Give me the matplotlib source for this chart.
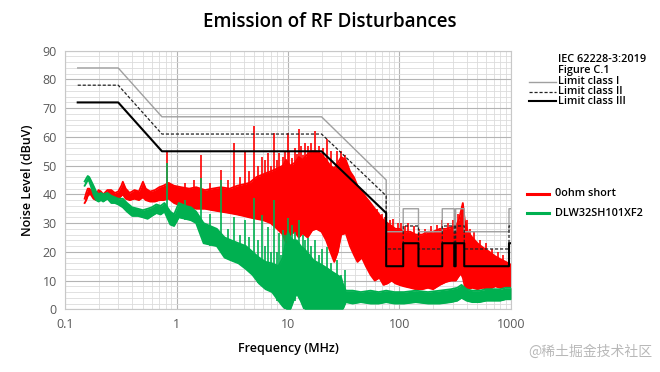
import matplotlib
matplotlib.use('Agg')
import matplotlib.pyplot as plt
from matplotlib.lines import Line2D
from matplotlib.ticker import MultipleLocator, LogLocator, FixedLocator, NullFormatter

plt.rcParams['font.family'] = ['Open Sans', 'DejaVu Sans']

# limit lines (IEC 62228-3 Figure C.1)
lim_f = [0.13, 0.3, 0.74, 20, 76, 76, 108, 108, 148, 148, 242, 242, 310, 310, 319, 319, 381, 381, 960, 960, 1000]
lim_1 = [84, 84, 67, 67, 45, 27, 27, 35, 35, 27, 27, 35, 35, 27, 27, 35, 35, 27, 27, 35, 35]
lim_2 = [78, 78, 61, 61, 39.5, 21, 21, 29, 29, 21, 21, 29, 29, 21, 21, 29, 29, 21, 21, 29, 29]
lim_3 = [72, 72, 55, 55, 33.5, 15, 15, 23, 23, 15, 15, 23, 23, 15, 15, 23, 23, 15, 15, 23, 23]

# 0ohm short - band of the noisy trace
red_f = [0.15, 0.155, 0.16, 0.165, 0.17, 0.18, 0.19, 0.20, 0.21, 0.22, 0.24, 0.26, 0.28, 0.30, 0.32, 0.33,
         0.35, 0.38, 0.42, 0.46, 0.50, 0.53, 0.58, 0.64, 0.70, 0.76, 0.85, 0.95, 1.1, 1.3, 1.5, 1.8, 2.1,
         2.5, 3.0, 3.5, 4.0, 4.5, 5.2, 6.0, 7.0, 8.0, 9.0, 9.6, 10.5, 11.5, 12.5, 13.5, 15, 16.5, 18, 20,
         22, 24, 26, 28, 30, 33, 36, 39, 42, 46, 50, 55, 60, 66, 72, 78, 85, 92, 100, 110, 125, 140, 160,
         180, 200, 230, 260, 290, 320, 340, 355, 370, 385, 410, 450, 500, 560, 640, 720, 800, 900, 1000]
red_hi = [38.5, 40.5, 42, 42, 41.5, 40.5, 40, 41.5, 41, 40, 41.5, 41.5, 40.5, 41, 43, 44.4,
          42, 40.5, 41.5, 41, 44.4, 42, 41, 41.5, 42.5, 43, 44, 43, 42.5, 42, 42.5, 41.5, 42,
          42.5, 42, 43, 43.5, 44, 46, 47, 48, 49, 50, 52, 50, 51, 53, 52, 54, 55, 55, 54,
          52, 50, 49, 51, 53, 52, 48, 46, 43, 41, 39, 37, 35, 33, 31, 30, 29, 28, 28, 27, 27, 26, 26,
          27, 27, 28, 28, 28.5, 29, 31, 34, 37, 31, 27, 25, 23, 21.5, 20, 18.5, 17.5, 16.5, 15.5]
red_lo = [37, 38, 39.5, 40, 40, 38.5, 38, 39, 38.5, 38, 39, 38.5, 38, 38.5, 39.5, 40,
          38.5, 38, 38.5, 38, 39, 38, 37.5, 37.5, 38, 38, 38.5, 37, 36, 35.5, 35, 35, 34.5,
          34, 33.5, 33, 32.5, 32, 31.5, 31, 30, 28, 26, 23, 26, 27, 25, 26.5, 25, 27.5, 28, 27,
          24, 20, 16.5, 20, 26, 26.5, 22, 19, 16.5, 18, 15, 12, 10, 11, 8.5, 9, 10, 9, 8.5, 8, 7.5, 7, 7,
          7.5, 7, 8.5, 9.5, 10, 10, 11.5, 12.5, 11, 8, 7, 7.5, 7, 7.5, 7, 8, 7.5, 8, 8]

# spikes (frequency, top, bottom of the spike)
red_sp_f = [0.82, 1.66, 2.49, 3.28, 4.11, 4.96, 5.9, 6.6, 7.5, 8.3, 9.0, 9.9, 10.8, 12.6, 13.6, 15.0,
            17.5, 22.4, 27.5, 32.4, 38, 42, 47, 54, 60, 66, 83, 88, 96, 104, 113, 120, 135, 150, 170,
            190, 215, 240, 270, 300, 335, 360, 400, 430, 470, 530, 600, 680, 760, 850,
            1.2, 1.45, 2.0, 2.9, 3.7, 4.5, 5.4, 6.2, 7.0, 7.9, 8.7, 9.4, 10.3, 11.5, 12.0, 13.1,
            14.3, 16.2, 18.8, 20.5, 24.5, 30, 35, 44, 50, 57, 63, 70, 74]
red_sp_top = [55, 53.7, 48.5, 57.8, 54.9, 63.8, 53, 54.4, 61.3, 54.4, 53, 61.3, 52.8, 62.6, 53.7, 57,
              62.2, 59.2, 55, 53.7, 44, 43, 40.4, 37, 34.5, 33, 31, 31.5, 30, 30, 29, 30, 29, 28, 28,
              29, 29.5, 31, 30, 31, 33, 36, 31, 28, 27, 24, 23, 21, 20, 19,
              44, 45, 44, 45, 46, 48, 50, 52, 50, 52, 50, 55, 55, 56, 54, 57,
              58, 58, 57, 56, 55, 55, 48, 42, 39, 36, 35, 33, 32]
red_sp_base = [40, 38, 38, 36, 36, 35, 34, 34, 33, 32, 30, 30, 30, 30, 30, 30,
               30, 30, 30, 30, 25, 22, 20, 16, 14, 14, 12, 12, 12, 12, 12, 12, 12, 12, 12,
               12, 12, 12, 12, 12, 14, 15, 12, 12, 12, 12, 12, 12, 12, 12,
               38, 38, 37, 36, 36, 35, 34, 34, 33, 32, 30, 30, 30, 30, 30, 30,
               30, 30, 30, 30, 25, 28, 25, 20, 18, 14, 12, 12, 12]

# DLW32SH101XF2
grn_f = [0.15, 0.155, 0.16, 0.165, 0.17, 0.18, 0.19, 0.20, 0.21, 0.22, 0.24, 0.26, 0.28, 0.30, 0.33, 0.36,
         0.40, 0.45, 0.50, 0.55, 0.60, 0.66, 0.72, 0.78, 0.88, 0.95, 1.05, 1.2, 1.35, 1.5, 1.75, 2.0, 2.3,
         2.7, 3.1, 3.6, 4.2, 4.8, 5.5, 6.3, 7.2, 8.2, 9.0, 9.6, 10.0, 10.5, 11.2, 12.0, 13, 14, 15.5, 17,
         19, 21, 23, 25, 27.5, 30, 31, 33, 38, 45, 55, 65, 76, 90, 110, 140, 180, 230, 290, 330, 360, 400,
         450, 520, 600, 700, 800, 900, 1000]
grn_hi = [44.5, 45.5, 46.4, 46, 45, 43, 41, 40, 40.5, 40, 40.5, 39.5, 39, 38.5, 38.5, 37,
          35.5, 35, 34.5, 35, 35.5, 36.5, 36, 37, 34, 33, 37, 36, 35.5, 34, 30, 29, 28,
          25, 24, 23, 22, 20, 18, 16.5, 16, 15, 18, 24, 27, 25, 24, 24, 22, 21, 19, 17,
          16, 15, 14, 13, 12, 11, 9, 6.5, 6.5, 6, 6.5, 6, 6.5, 6, 6, 6.5, 6, 6.5, 7, 7.5, 8.5, 7,
          6.5, 6.5, 7, 7, 7, 7.5, 7.5]
grn_lo = [43, 44, 45, 44.5, 43, 40, 38, 37.5, 38, 37.5, 38.5, 37, 37, 36.5, 35.5, 34,
          32.5, 32.5, 32, 31.5, 32.5, 33.5, 33, 34, 29.5, 29, 32, 31.5, 31, 30, 23, 22.5, 22,
          18, 17, 16, 14, 12, 9, 7, 6, 3, 1, 0, 0, 0, 3, 5.5, 3, 0, 0, 0,
          0, 0, 0, 0, 0, 0, 0, 2.5, 2, 2.5, 2, 2, 2.5, 2, 2, 2.5, 2, 2, 2.5, 3, 4, 3,
          2.5, 2.5, 3, 3, 3, 3.5, 3.5]
grn_sp_f = [0.82, 1.66, 2.49, 3.28, 4.11, 4.96, 5.9, 6.6, 7.5, 8.3, 9.0, 9.9, 10.8, 12.6, 13.6, 15.0,
            17.5, 20, 22.4, 27.5, 32.4,
            1.2, 2.0, 2.9, 3.7, 4.5, 5.4, 6.2, 7.0, 7.9, 8.7, 9.4, 11.5, 14.3, 16.2, 18.8, 24.5, 30]
grn_sp_top = [51, 45.7, 45, 32, 31, 38.7, 32.8, 28.8, 38, 26.5, 27.6, 31.7, 29.3, 31, 26, 24.8,
              24, 21, 21.7, 17, 13.7,
              38, 33, 28, 26, 25, 24, 22, 20, 20, 19, 26, 27, 24, 22, 19, 16, 12]
grn_sp_base = [35, 30, 22, 18, 15, 12, 10, 8, 6, 5, 3, 5, 5, 5, 5, 3,
               3, 3, 3, 3, 3,
               31, 22, 18, 16, 13, 9, 7, 6, 3, 2, 2, 3, 2, 2, 2, 2, 2]

RED = '#ff0000'
GREEN = '#00b050'

fig = plt.figure(figsize=(6.6, 3.72), dpi=100)
ax = fig.add_axes([0.0985, 0.1685, 0.6757, 0.6952])

# 0ohm short
ax.fill_between(red_f, red_lo, red_hi, color=RED, lw=0, zorder=2)
ax.plot(red_f, red_hi, color=RED, lw=1.3, zorder=2)
ax.plot(red_f, red_lo, color=RED, lw=1.3, zorder=2)
ax.vlines(red_sp_f, red_sp_base, red_sp_top, color=RED, lw=1.2, zorder=2)

# DLW32SH101XF2
ax.fill_between(grn_f, grn_lo, grn_hi, color=GREEN, lw=0, zorder=3)
ax.plot(grn_f, grn_hi, color=GREEN, lw=1.3, zorder=3)
ax.plot(grn_f, grn_lo, color=GREEN, lw=1.3, zorder=3)
ax.vlines(grn_sp_f, grn_sp_base, grn_sp_top, color=GREEN, lw=1.2, zorder=3)

# limits
ax.plot(lim_f, lim_1, color='#a0a0a0', lw=1.0, zorder=4)
ax.plot(lim_f, lim_2, color='#222222', lw=0.9, ls=(0, (2.5, 1.5)), zorder=4)
ax.plot(lim_f, lim_3, color='black', lw=1.5, zorder=4)

ax.set_xscale('log')
ax.set_xlim(0.1, 1000)
ax.set_ylim(0, 90)
ax.xaxis.set_major_locator(FixedLocator([0.1, 1, 10, 100, 1000]))
ax.set_xticklabels(['0.1', '1', '10', '100', '1000'])
ax.xaxis.set_minor_locator(LogLocator(base=10, subs=range(2, 10)))
ax.xaxis.set_minor_formatter(NullFormatter())
ax.yaxis.set_major_locator(MultipleLocator(10))
ax.yaxis.set_minor_locator(MultipleLocator(2))
ax.grid(which='major', color='#b4b4b4', lw=0.8, zorder=0)
ax.grid(which='minor', color='#dcdcdc', lw=0.6, zorder=0)
ax.set_axisbelow(True)
ax.tick_params(which='both', length=0, labelsize=9, labelcolor='#595959', pad=6)
for s in ax.spines.values():
    s.set_color('#c8c8c8')
    s.set_linewidth(0.8)

ax.set_xlabel('Frequency (MHz)', fontsize=9, fontweight='semibold', labelpad=8)
ax.set_ylabel('Noise Level (dBuV)', fontsize=9, fontweight='semibold', labelpad=6)
fig.text(0.5, 0.94, 'Emission of RF Disturbances', ha='center', va='center',
         fontsize=13.5, fontweight='semibold')

# legend, drawn by hand like the original
W, H = 660.0, 372.0
def fx(x):
    return x / W
def fy(y):
    return 1 - y / H

fig.text(fx(558), fy(60), 'IEC 62228-3:2019', fontsize=7.8, va='center', fontweight='semibold')
fig.text(fx(558), fy(70.5), 'Figure C.1', fontsize=7.8, va='center', fontweight='semibold')
leg_lim = [('Limit class I', '#a0a0a0', '-', 1.0, 82),
           ('Limit class II', '#222222', (0, (2.5, 1.5)), 0.9, 91.5),
           ('Limit class III', 'black', '-', 1.5, 101)]
for name, c, ls, lw, y in leg_lim:
    fig.add_artist(Line2D([fx(529), fx(556)], [fy(y), fy(y)], color=c, ls=ls, lw=lw))
    fig.text(fx(558), fy(y), name, fontsize=7.8, va='center', fontweight='semibold')

for name, c, y in [('0ohm short', RED, 194), ('DLW32SH101XF2', GREEN, 213)]:
    fig.add_artist(Line2D([fx(527), fx(549)], [fy(y), fy(y)], color=c, lw=2.2))
    fig.text(fx(555), fy(y), name, fontsize=7.8, va='center', fontweight='semibold')

fig.text(fx(652), fy(352), '@稀土掘金技术社区', ha='right', va='center', fontsize=10,
         color='#b8b8b8', family=['Noto Sans CJK SC', 'DejaVu Sans'])

fig.savefig('out.png', dpi=100)
